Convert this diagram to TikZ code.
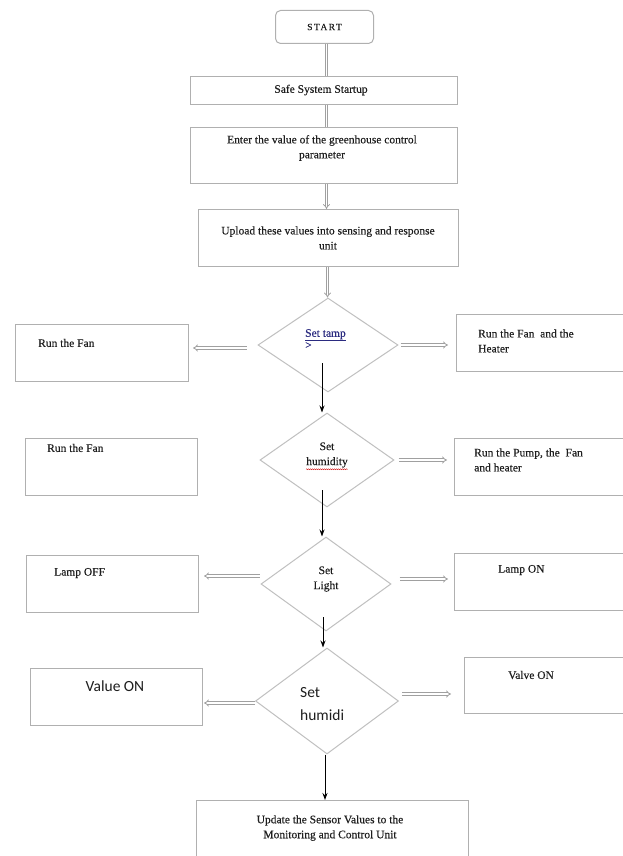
\documentclass[tikz,border=0pt]{standalone}
\usepackage{fontspec}
\setmainfont{Liberation Serif}[FakeBold=0.25]
\newfontfamily\calib{Carlito}
\usetikzlibrary{shapes.geometric,arrows.meta,decorations.pathmorphing}
\definecolor{boxgray}{HTML}{B0B0B0}
\definecolor{diagray}{HTML}{C0C0C0}
\definecolor{arrgray}{HTML}{A0A0A0}
\definecolor{linkblue}{HTML}{2B2B80}
\definecolor{inkc}{HTML}{1E1E1E}
\begin{document}
\begin{tikzpicture}[x=1pt,y=-1pt,
  box/.style={draw=boxgray, line width=1pt, rectangle, inner sep=0pt, anchor=north west},
  dia/.style={draw=diagray, line width=1pt, diamond, inner sep=0pt},
  txt/.style={inner sep=0pt, text=inkc, font=\fontsize{11.5}{15}\selectfont},
  ltxt/.style={txt, anchor=west, align=left},
  ctxt/.style={txt, align=center},
  stxt/.style={inner sep=0pt, text=inkc, font=\calib\fontsize{15.5}{23}\selectfont},
  hollow/.style={draw=arrgray, double=white, double distance=1.6pt, line width=0.8pt, -{Implies}},
  dbl/.style={draw=arrgray, double=white, double distance=1pt, line width=0.7pt},
  blk/.style={draw=black, line width=1pt, -{Stealth[length=7pt,width=5pt]}}
]
\clip (0,0) rectangle (623,856);
\fill[white] (0,0) rectangle (623,856);

% main column
\node[box, rounded corners=5pt, minimum width=98pt, minimum height=33pt,
      font=\fontsize{9.5}{11}\selectfont\addfontfeatures{LetterSpace=15}, text=inkc] (start) at (275,10) {START};
\node[box, minimum width=267pt, minimum height=28pt] (safe) at (190,76) {};
\node[ctxt] (safet) at (321,90) {Safe System Startup};
\node[box, minimum width=267pt, minimum height=56pt] (enter) at (190,127) {};
\node[ctxt] (entert) at (322,148) {Enter the value of the greenhouse control\\parameter};
\node[box, minimum width=260pt, minimum height=57pt] (upload) at (198,209) {};
\node[ctxt] (uploadt) at (328,238) {Upload these values into sensing and response\\unit};

% decision 1
\node[dia, minimum width=140pt, minimum height=94pt] (d1) at (328,345) {};
\node[inner sep=0pt, anchor=west, align=left, text=linkblue, font=\fontsize{11.5}{11}\selectfont] (d1t) at (305,339) {\underline{Set\ tamp}\\>};
\node[box, minimum width=173pt, minimum height=57pt] (lf1) at (15,324) {};
\node[ltxt] (lf1t) at (38,343) {Run the Fan};
\node[box, minimum width=180pt, minimum height=57pt] (rt1) at (456,314) {};
\node[ltxt] (rt1t) at (478,341) {Run the Fan\ \ and the\\Heater};

% decision 2
\node[dia, minimum width=134pt, minimum height=94pt] (d2) at (327,460) {};
\node[ctxt] (d2t) at (327,455) {Set\\humidity};
\node[box, minimum width=172pt, minimum height=57pt] (lf2) at (25,438) {};
\node[ltxt] (lf2t) at (47,448) {Run the Fan};
\node[box, minimum width=180pt, minimum height=57pt] (rt2) at (454,438) {};
\node[ltxt] (rt2t) at (474,460) {Run the Pump, the\ \ Fan\\and heater};

% decision 3
\node[dia, minimum width=130pt, minimum height=94pt] (d3) at (326,584) {};
\node[ctxt] (d3t) at (326,579) {Set\\Light};
\node[box, minimum width=172pt, minimum height=57pt] (lf3) at (26,555) {};
\node[ltxt] (lf3t) at (54,573) {Lamp OFF};
\node[box, minimum width=180pt, minimum height=57pt] (rt3) at (454,553) {};
\node[ltxt] (rt3t) at (498,570) {Lamp ON};

% decision 4
\node[dia, minimum width=143pt, minimum height=106pt] (d4) at (327,701) {};
\node[stxt, anchor=west, align=left] (d4t) at (300,704) {Set\\humidi};
\node[box, minimum width=172pt, minimum height=57pt] (lf4) at (30,668) {};
\node[stxt] (lf4t) at (115,686) {Value ON};
\node[box, minimum width=170pt, minimum height=56pt] (rt4) at (464,657) {};
\node[ltxt] (rt4t) at (508,675) {Valve ON};

% final
\node[box, minimum width=272pt, minimum height=70pt] (upd) at (196,800) {};
\node[ctxt] (updt) at (330,828) {Update the Sensor Values to the\\Monitoring and Control Unit};

% spelling squiggle under "humidity"
\draw[red!80!black, line width=0.4pt, decorate, decoration={snake, amplitude=0.5pt, segment length=2pt}]
  ([yshift=-1.5pt]d2t.south west) -- ([yshift=-1.5pt]d2t.south east);

% main column connectors
\coordinate (s1) at ([xshift=2pt]start.south);
\draw[dbl] (s1) -- (s1 |- safe.north);
\coordinate (s2) at (safe.south -| s1);
\draw[dbl] (s2) -- (s2 |- enter.north);
\coordinate (s3) at (enter.south -| s1);
\draw[hollow] (s3) -- (s3 |- upload.north);
\coordinate (s4) at ([xshift=1pt]upload.south -| s1);
\draw[hollow] (s4) -- (s4 |- d1.north);

% decision 1 branches
\coordinate (a1l) at ([xshift=-11pt,yshift=-3pt]d1.west);
\draw[hollow, shorten >=4pt] (a1l) -- (a1l -| lf1.east);
\coordinate (a1r) at ([xshift=2pt]d1.east);
\draw[hollow, shorten >=8pt] (a1r) -- (a1r -| rt1.west);
\draw[blk] ([xshift=-6pt,yshift=-18pt]d1.center) -- ([xshift=-6pt]d1.center |- d2.north);

% decision 2 branches
\coordinate (a2r) at ([xshift=4pt]d2.east);
\draw[hollow, shorten >=7pt] (a2r) -- (a2r -| rt2.west);
\draw[blk] ([xshift=-5pt,yshift=-30pt]d2.center) -- ([xshift=-5pt]d2.center |- d3.north);

% decision 3 branches
\coordinate (a3l) at ([xshift=-1pt,yshift=8pt]d3.west);
\draw[hollow, shorten >=5pt] (a3l) -- (a3l -| lf3.east);
\coordinate (a3r) at ([xshift=8pt,yshift=5pt]d3.east);
\draw[hollow, shorten >=6pt] (a3r) -- (a3r -| rt3.west);
\draw[blk] ([xshift=-3pt,yshift=-33pt]d3.center) -- ([xshift=-3pt]d3.center |- d4.north);

% decision 4 branches
\coordinate (a4l) at ([yshift=-2pt]d4.west);
\draw[hollow, shorten >=1pt] (a4l) -- (a4l -| lf4.east);
\coordinate (a4r) at ([xshift=3pt,yshift=7pt]d4.east);
\draw[hollow, shorten >=13pt] (a4r) -- (a4r -| rt4.west);
\draw[blk] ([xshift=-2pt]d4.south) -- ([xshift=-2pt]d4.south |- upd.north);
\end{tikzpicture}
\end{document}
